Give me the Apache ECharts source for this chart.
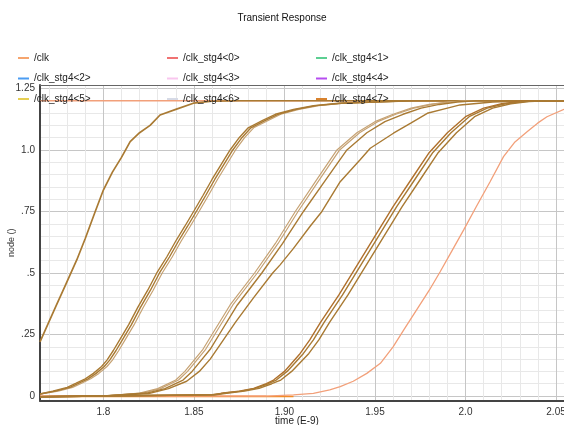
<!DOCTYPE html>
<html><head><meta charset="utf-8">
<script src="https://cdn.jsdelivr.net/npm/echarts@6/dist/echarts.min.js"></script>
<style>html,body{margin:0;padding:0;background:#fff}#c{width:564px;height:425px}</style>
</head><body><div id="c"></div>
<script>
// ---- legend ----
const legendNames = ['/clk','/clk_stg4<0>','/clk_stg4<1>','/clk_stg4<2>','/clk_stg4<3>','/clk_stg4<4>','/clk_stg4<5>','/clk_stg4<6>','/clk_stg4<7>'];
const legendColors = ['#f6a56e','#f07272','#5ccf92','#4b9cf2','#f9c6ee','#b64df0','#e6cf52','#d6dae6','#d8822e'];

// ---- axis ticks ----
const xMajor = [1.8,1.85,1.9,1.95,2.0,2.05];
const xTickLabels = ['1.8','1.85','1.90','1.95','2.0','2.05'];
const yMajor = [0,0.25,0.5,0.75,1.0,1.25];
const yTickLabels = ['0','.25','.5','.75','1.0','1.25'];

// ---- curves (time in ns, value) ----
const tA = [1.765,1.769,1.7735,1.779,1.7853,1.79,1.795,1.80,1.805,1.81,1.8148,1.82,1.8258,1.8313,1.84,1.8497,1.86,1.8755,2.0544];
const vA = [0.22,0.286,0.36,0.45,0.553,0.64,0.74,0.837,0.91,0.97,1.034,1.07,1.10,1.142,1.165,1.19,1.198,1.2,1.2];

const vB  = [0.008,0.02,0.035,0.052,0.07,0.092,0.12,0.146,0.185,0.228,0.29,0.36,0.43,0.50,0.565,0.63,0.69,0.752,0.815,0.88,0.94,1.0,1.05,1.09,1.12,1.145,1.165,1.18,1.19,1.196,1.2,1.2];
const tB1 = [1.765,1.772,1.78,1.785,1.79,1.7945,1.799,1.802,1.8055,1.809,1.814,1.819,1.8245,1.8295,1.835,1.84,1.845,1.85,1.855,1.86,1.865,1.87,1.875,1.88,1.888,1.895,1.905,1.916,1.93,1.953,1.97,2.0544];
const tB2 = [1.765,1.7735,1.7815,1.7865,1.7915,1.796,1.8005,1.8035,1.807,1.8105,1.8155,1.8205,1.826,1.831,1.8365,1.8415,1.8465,1.8515,1.8565,1.8615,1.8665,1.8715,1.8765,1.8815,1.8895,1.8965,1.9065,1.9175,1.9315,1.9545,1.9715,2.0544];
const tB3 = [1.765,1.775,1.783,1.788,1.793,1.7975,1.802,1.805,1.8085,1.812,1.817,1.822,1.8275,1.8325,1.838,1.843,1.848,1.853,1.858,1.863,1.868,1.873,1.878,1.883,1.891,1.898,1.908,1.919,1.933,1.956,1.973,2.0544];

const vC  = [-0.003,0.0,0.012,0.03,0.065,0.10,0.145,0.19,0.25,0.37,0.50,0.62,0.75,0.87,1.0,1.07,1.115,1.145,1.17,1.185,1.195,1.2,1.2];
const tC1 = [1.765,1.80,1.82,1.83,1.84,1.845,1.85,1.855,1.86,1.87,1.8835,1.895,1.906,1.917,1.929,1.94,1.95,1.96,1.97,1.98,1.99,2.0,2.0544];
const tC2 = [1.765,1.80,1.8215,1.8315,1.8415,1.8465,1.8515,1.8565,1.8615,1.8715,1.885,1.8965,1.9075,1.9185,1.9305,1.9415,1.9515,1.9615,1.9715,1.9815,1.9915,2.0015,2.0544];
const tC3 = [1.765,1.80,1.824,1.834,1.844,1.849,1.854,1.859,1.864,1.874,1.8875,1.899,1.9105,1.922,1.9345,1.9455,1.9555,1.9655,1.9755,1.9855,1.9955,2.0055,2.0544];
const tC4 = [1.765,1.80,1.825,1.836,1.846,1.853,1.859,1.8663,1.873,1.883,1.8935,1.8976,1.905,1.9142,1.9207,1.9308,1.9418,1.9474,1.9602,1.97,1.9789,1.99,1.997,2.015,2.035,2.0544];
const vC4 = [-0.003,0.0,0.01,0.03,0.06,0.10,0.15,0.228,0.30,0.40,0.50,0.533,0.60,0.69,0.75,0.871,0.96,1.007,1.068,1.11,1.149,1.17,1.183,1.195,1.2,1.2];

const vD  = [-0.003,0.005,0.011,0.02,0.031,0.05,0.065,0.10,0.173,0.228,0.30,0.41,0.53,0.65,0.77,0.88,0.99,1.07,1.135,1.17,1.188,1.197,1.2,1.2];
const tD1 = [1.765,1.86,1.865,1.875,1.883,1.89,1.894,1.90,1.9087,1.914,1.92,1.93,1.94,1.95,1.96,1.97,1.98,1.99,2.0,2.01,2.02,2.03,2.04,2.0544];
const tD2 = [1.765,1.861,1.866,1.876,1.884,1.891,1.8955,1.9015,1.9105,1.916,1.922,1.932,1.942,1.952,1.962,1.972,1.982,1.992,2.002,2.012,2.022,2.032,2.042,2.0544];
const tD3 = [1.765,1.862,1.868,1.878,1.886,1.893,1.898,1.904,1.9135,1.919,1.925,1.935,1.945,1.955,1.965,1.975,1.985,1.995,2.005,2.015,2.025,2.035,2.045,2.0544];

const tClk = [1.765,1.89,1.905,1.916,1.925,1.9308,1.938,1.9455,1.953,1.96,1.966,1.973,1.98,1.986,1.9925,1.999,2.006,2.0135,2.021,2.027,2.034,2.04,2.045,2.0544];
const vClk = [0,0,0.005,0.011,0.025,0.038,0.06,0.092,0.133,0.2,0.27,0.35,0.43,0.505,0.59,0.675,0.77,0.87,0.973,1.03,1.074,1.11,1.135,1.165];

const tHigh = [1.765,2.0544];
const vHigh = [1.2,1.2];
const tLow = [1.765,1.905];
const vLow = [-0.002,-0.002];

// ---- build ----
const pts = (t, v) => t.map((x, i) => [x, v[i]]);
const XMIN = 1.765, XMAX = 2.0544, YMIN = -0.019, YMAX = 1.264;
const xMinor = [], yMinor = [];
for (let i = 177; i <= 205; i++) { if (i % 5 !== 0) xMinor.push(i / 100); }
for (let i = 1; i <= 25; i++) { if (i % 5 !== 0) yMinor.push(i / 20); }
const pick = (vals, labels) => (v) => { const k = vals.findIndex(a => Math.abs(a - v) < 1e-6); return k < 0 ? '' : labels[k]; };

const BROWN = '#a97a33', TAN = '#c6a273', DORANGE = '#b0702c', SALMON = '#f2a07a';
function line(name, data, color, width, z) {
  return { name, type: 'line', data, showSymbol: false, symbol: 'none', silent: true, z: z || 2,
    lineStyle: { color, width }, itemStyle: { color }, animation: false };
}
const series = [];
legendNames.forEach((n, i) => series.push({ name: n, type: 'line', data: [], color: legendColors[i], animation: false }));
series.push(line('high', pts(tHigh, vHigh), SALMON, 1.6, 1));
series.push(line('low', pts(tLow, vLow), '#f28a26', 1.4, 1));
series.push(line('clk', pts(tClk, vClk), SALMON, 1.3, 2));
series.push(line('A', pts(tA, vA), BROWN, 1.7, 3));
series.push(line('B3', pts(tB3, vB), TAN, 1.2, 3));
series.push(line('B2', pts(tB2, vB), BROWN, 1.4, 3));
series.push(line('B1', pts(tB1, vB), BROWN, 1.4, 3));
series.push(line('C1', pts(tC1, vC), TAN, 1.2, 3));
series.push(line('C2', pts(tC2, vC), TAN, 1.2, 3));
series.push(line('C3', pts(tC3, vC), BROWN, 1.4, 3));
series.push(line('C4', pts(tC4, vC4), BROWN, 1.4, 3));
series.push(line('D1', pts(tD1, vD), DORANGE, 1.4, 3));
series.push(line('D2', pts(tD2, vD), BROWN, 1.4, 3));
series.push(line('D3', pts(tD3, vD), BROWN, 1.4, 3));

const legendBase = { orient: 'vertical', top: 47, icon: 'rect', itemWidth: 11, itemHeight: 2, itemGap: 8.5,
  textStyle: { fontSize: 10, color: '#222', fontFamily: 'Liberation Sans', lineHeight: 12 }, selectedMode: false, z: 10 };

const chart = echarts.init(document.getElementById('c'), null, { renderer: 'canvas' });
chart.setOption({
  backgroundColor: '#fff',
  animation: false,
  title: { text: 'Transient Response', left: 'center', top: 8,
    textStyle: { fontSize: 10, fontWeight: 'normal', color: '#111', fontFamily: 'Liberation Sans' } },
  legend: [
    Object.assign({}, legendBase, { left: 13, data: [legendNames[0], legendNames[3], legendNames[6]] }),
    Object.assign({}, legendBase, { left: 162, data: [legendNames[1], legendNames[4], legendNames[7]] }),
    Object.assign({}, legendBase, { left: 311, data: [legendNames[2], legendNames[5], legendNames[8]] })
  ],
  grid: { left: 40, right: 0, top: 85, bottom: 24.3, containLabel: false, outerBoundsMode: 'none' },
  xAxis: [
    { type: 'value', min: XMIN, max: XMAX, position: 'bottom',
      axisLine: { show: true, onZero: false, lineStyle: { color: '#444', width: 2 } },
      axisTick: { show: false, customValues: xMajor },
      axisLabel: { customValues: xMajor, formatter: pick(xMajor, xTickLabels), fontSize: 10, color: '#333', margin: 7, fontFamily: 'Liberation Sans' },
      splitLine: { show: true, lineStyle: { color: '#c6c6c6', width: 1 } },
      name: 'time (E-9)', nameLocation: 'middle', nameGap: 16, nameMoveOverlap: false,
      nameTextStyle: { fontSize: 10, color: '#222', fontFamily: 'Liberation Sans', padding: [0, 10, 0, 0] } },
    { type: 'value', min: XMIN, max: XMAX, position: 'top',
      axisLine: { show: true, onZero: false, lineStyle: { color: '#666', width: 1 } },
      axisTick: { show: false, customValues: xMinor },
      axisLabel: { show: false },
      splitLine: { show: true, lineStyle: { color: '#e8e8e8', width: 1 } } }
  ],
  yAxis: [
    { type: 'value', min: YMIN, max: YMAX, position: 'left',
      axisLine: { show: true, onZero: false, lineStyle: { color: '#444', width: 2 } },
      axisTick: { show: false, customValues: yMajor },
      axisLabel: { customValues: yMajor, formatter: pick(yMajor, yTickLabels), fontSize: 10, color: '#333', margin: 5, fontFamily: 'Liberation Sans' },
      splitLine: { show: true, lineStyle: { color: '#c6c6c6', width: 1 } },
      name: 'node ()', nameLocation: 'middle', nameGap: 24, nameRotate: 90, nameMoveOverlap: false,
      nameTextStyle: { fontSize: 9, color: '#333', fontFamily: 'Liberation Sans' } },
    { type: 'value', min: YMIN, max: YMAX, position: 'right',
      axisLine: { show: false },
      axisTick: { show: false, customValues: yMinor },
      axisLabel: { show: false },
      splitLine: { show: true, lineStyle: { color: '#e8e8e8', width: 1 } } }
  ],
  series: series
});
</script>
</body></html>
